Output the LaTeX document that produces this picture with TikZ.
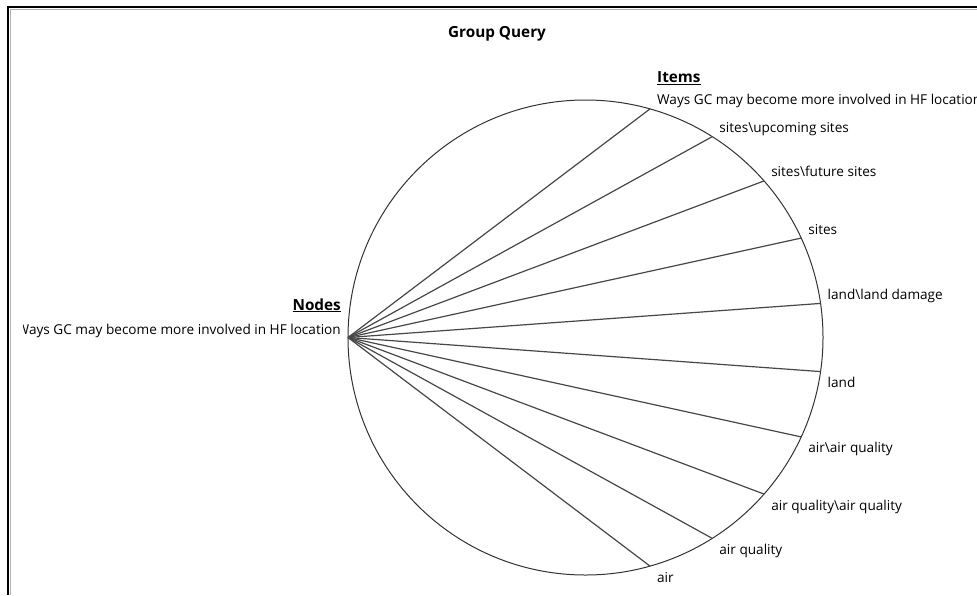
\documentclass[tikz,border=0pt]{standalone}
\usepackage{fontspec}
\setmainfont{Open Sans}
\usetikzlibrary{calc}
\begin{document}
\begin{tikzpicture}[x=1pt,y=-1pt,
  lbl/.style={anchor=base west,inner sep=0pt,font=\fontsize{13.6}{16}\selectfont},
  hdr/.style={inner sep=0pt,font=\fontsize{15.3}{18}\selectfont\bfseries},
  spoke/.style={draw=black!72,line width=1.2pt},
  ring/.style={draw=black!80,line width=1pt}]
\useasboundingbox (0,0) rectangle (977,595);
\fill[white] (0,0) rectangle (977,595);
% panel frame
\draw[black!30,line width=1pt] (10.3,595) -- (10.3,9.3) -- (977,9.3);
\draw[black,line width=1.6pt] (8,595) -- (8,7) -- (977,7);
% title
\node[hdr,anchor=base] (title) at (497,37) {Group Query};
% circle and hub
\coordinate (c) at (585.5,337.5);
\draw[ring] (c) circle (237.5);
\coordinate (hub) at (348,337.5);
% item end points on the circle
\foreach \i/\a in {1/-74.25,2/-57.75,3/-41.25,4/-24.75,5/-8.25,6/8.25,7/24.75,8/41.25,9/57.75,10/74.25}{
  \coordinate (e\i) at ($(c)+(\a:237.5)$);
}
% spokes
\foreach \i in {1,...,10}{
  \draw[spoke] (hub) -- (e\i);
}
% item labels
\node[lbl] (l1) at ($(e1)+(7,-4)$) {Ways GC may become more involved in HF location};
\node[lbl] (l2) at ($(e2)+(7,-4)$) {sites\textbackslash upcoming sites};
\node[lbl] (l3) at ($(e3)+(7,-4)$) {sites\textbackslash future sites};
\node[lbl] (l4) at ($(e4)+(7,-4)$) {sites};
\node[lbl] (l5) at ($(e5)+(7,-4)$) {land\textbackslash land damage};
\node[lbl] (l6) at ($(e6)+(7,16)$) {land};
\node[lbl] (l7) at ($(e7)+(7,16)$) {air\textbackslash air quality};
\node[lbl] (l8) at ($(e8)+(7,16)$) {air quality\textbackslash air quality};
\node[lbl] (l9) at ($(e9)+(7,16)$) {air quality};
\node[lbl] (l10) at ($(e10)+(7,16)$) {air};
% headings
\node[hdr,anchor=base west] (itemshdr) at (657,82.5) {\underline{Items}};
\node[hdr,anchor=base east] (nodeshdr) at (341,310) {\underline{Nodes}};
\begin{scope}
  \clip (23,0) rectangle (977,595);
  \node[lbl,anchor=base east] (src) at (341,334) {Ways GC may become more involved in HF location};
\end{scope}
\end{tikzpicture}
\end{document}
